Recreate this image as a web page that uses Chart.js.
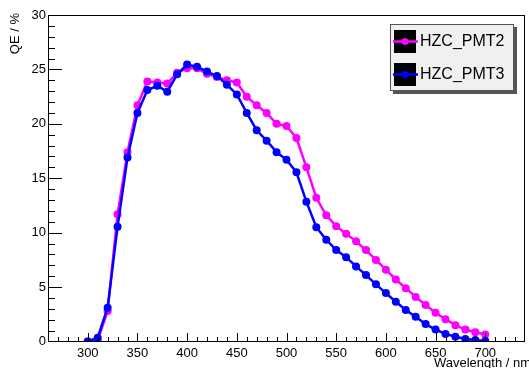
<!DOCTYPE html>
<html>
<head>
<meta charset="utf-8">
<script src="https://cdn.jsdelivr.net/npm/chart.js@4.4.0/dist/chart.umd.min.js"></script>
<style>
html,body{margin:0;padding:0;background:#fff;}
canvas{display:block;}
</style>
</head>
<body>
<canvas id="c" width="529" height="368"></canvas>
<script>
const wavelengths = [300,310,320,330,340,350,360,370,380,390,400,410,420,430,440,450,460,470,480,490,500,510,520,530,540,550,560,570,580,590,600,610,620,630,640,650,660,670,680,690,700];
const pmt2 = [0.0,0.1,2.8,11.7,17.4,21.7,23.9,23.8,23.7,24.7,25.1,25.1,24.6,24.3,24.0,23.8,22.5,21.7,21.0,20.0,19.8,18.7,16.0,13.2,11.6,10.6,9.9,9.2,8.4,7.5,6.6,5.7,4.9,4.1,3.35,2.65,2.05,1.5,1.1,0.85,0.65];
const pmt3 = [0.0,0.35,3.1,10.55,16.9,21.0,23.1,23.5,22.95,24.55,25.45,25.25,24.8,24.4,23.6,22.7,21.0,19.4,18.45,17.4,16.7,15.55,12.85,10.5,9.35,8.4,7.75,6.9,6.1,5.25,4.45,3.65,2.9,2.28,1.6,1.1,0.7,0.44,0.23,0.13,0.05];
const xTickLabels = [300,350,400,450,500,550,600,650,700];
const yTickLabels = [0,5,10,15,20,25,30];
const seriesNames = ["HZC_PMT2","HZC_PMT3"];
const seriesColors = ["#ff00ff","#0000ff"];
const xTitle = "Wavelength / nm";
const yTitle = "QE / %";

const FONT = "'Liberation Sans', Arial, sans-serif";

function pts(vals){ return wavelengths.map((w,i)=>({x:w,y:vals[i]})); }

const rootPlugin = {
  id:'rootStyle',
  afterDraw(chart){
    const ctx = chart.ctx;
    const a = chart.chartArea;
    const xs = chart.scales.x, ys = chart.scales.y;
    ctx.save();
    // frame
    ctx.strokeStyle = '#000';
    ctx.lineWidth = 1;
    ctx.strokeRect(Math.round(a.left)+0.5, Math.round(a.top)+0.5, Math.round(a.right-a.left)-1, Math.round(a.bottom-a.top)-1);
    // x ticks (inside)
    ctx.beginPath();
    const xb = Math.round(a.bottom);
    for(let v=270; v<=730; v+=10){
      const px = Math.round(xs.getPixelForValue(v))+0.5;
      const len = (v%50===0)?9:5;
      ctx.moveTo(px, xb); ctx.lineTo(px, xb-len);
    }
    // y ticks
    const yl = Math.round(a.left);
    for(let v=1; v<30; v+=1){
      const py = Math.round(ys.getPixelForValue(v))+0.5;
      const len = (v%5===0)?14:7;
      ctx.moveTo(yl, py); ctx.lineTo(yl+len, py);
    }
    ctx.stroke();
    // axis titles
    ctx.fillStyle = '#000';
    ctx.font = '13px ' + FONT;
    ctx.textAlign = 'right';
    ctx.textBaseline = 'middle';
    ctx.fillText(xTitle, 531, 363);
    ctx.save();
    ctx.translate(15.5, 13);
    ctx.rotate(-Math.PI/2);
    ctx.textAlign = 'right';
    ctx.fillText(yTitle, 0, 0);
    ctx.restore();
    // legend
    const lx = 390, ly = 24, lw = 124, lh = 67;
    ctx.fillStyle = '#555';
    ctx.fillRect(lx+3, ly+3, lw, lh);
    ctx.fillStyle = '#f0f0f0';
    ctx.fillRect(lx, ly, lw, lh);
    ctx.strokeStyle = '#555';
    ctx.lineWidth = 1;
    ctx.strokeRect(lx+0.5, ly+0.5, lw-1, lh-1);
    const rows = [41, 74];
    ctx.font = '16px ' + FONT;
    ctx.textAlign = 'left';
    ctx.textBaseline = 'middle';
    for(let i=0;i<2;i++){
      const cy = rows[i];
      ctx.fillStyle = '#000';
      ctx.fillRect(394, cy-11, 22, 23);
      ctx.strokeStyle = seriesColors[i];
      ctx.lineWidth = 2.5;
      ctx.beginPath(); ctx.moveTo(393, cy+0.5); ctx.lineTo(418, cy+0.5); ctx.stroke();
      ctx.fillStyle = seriesColors[i];
      ctx.beginPath(); ctx.arc(405, cy+0.5, 3.5, 0, Math.PI*2); ctx.fill();
      ctx.fillStyle = '#000';
      ctx.fillText(seriesNames[i], 420, cy+1);
    }
    ctx.restore();
  }
};

const bgPlugin = {
  id:'bg',
  beforeDraw(chart){ const c=chart.ctx; c.save(); c.fillStyle='#fff'; c.fillRect(0,0,chart.width,chart.height); c.restore(); }
};

new Chart(document.getElementById('c'), {
  type:'line',
  data:{
    datasets:[
      {label:seriesNames[0], data:pts(pmt2), borderColor:seriesColors[0], backgroundColor:seriesColors[0], borderWidth:2.5, pointRadius:4, pointBorderWidth:0, fill:false, tension:0, order:1},
      {label:seriesNames[1], data:pts(pmt3), borderColor:seriesColors[1], backgroundColor:seriesColors[1], borderWidth:2.5, pointRadius:4, pointBorderWidth:0, fill:false, tension:0, order:0}
    ]
  },
  options:{
    responsive:false,
    animation:false,
    devicePixelRatio:1,
    layout:{padding:{top:15, right:1, left:0, bottom:0}},
    plugins:{legend:{display:false}, tooltip:{enabled:false}},
    scales:{
      x:{
        type:'linear', min:260, max:740,
        afterBuildTicks(s){ s.ticks = xTickLabels.map(v=>({value:v})); },
        afterFit(s){ s.height = 26.5; },
        grid:{display:false, drawTicks:false},
        border:{display:false},
        ticks:{color:'#000', font:{family:FONT, size:13}, padding:4, maxRotation:0, autoSkip:false}
      },
      y:{
        type:'linear', min:0, max:30,
        afterBuildTicks(s){ s.ticks = yTickLabels.map(v=>({value:v})); },
        afterFit(s){ s.width = 48; },
        grid:{display:false, drawTicks:false},
        border:{display:false},
        ticks:{color:'#000', font:{family:FONT, size:13}, padding:2}
      }
    }
  },
  plugins:[bgPlugin, rootPlugin]
});
</script>
</body>
</html>
